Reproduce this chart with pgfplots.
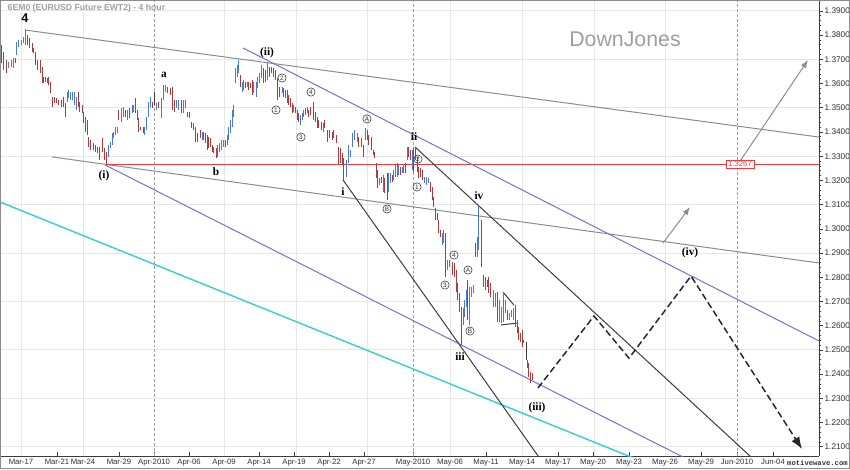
\documentclass[border=0pt]{standalone}
\usepackage{fontspec}
\setmainfont{Liberation Sans}
\newfontfamily\wavefont{Liberation Serif}
\newfontfamily\monofont{Liberation Mono}
\usepackage{pgfplots}
\usepackage{pgfplotstable}
\pgfplotsset{compat=1.18}
\usetikzlibrary{arrows.meta}

\definecolor{barblue}{HTML}{4A78D2}
\definecolor{barred}{HTML}{B03A3A}
\definecolor{trendgray}{HTML}{8C8C8C}
\definecolor{chanblue}{HTML}{7272D2}
\definecolor{cyanline}{HTML}{3CCFCF}
\definecolor{darkline}{HTML}{3C3C3C}
\definecolor{gridc}{HTML}{E6E6E6}
\definecolor{monthc}{HTML}{A0A0A0}
\definecolor{labc}{HTML}{303030}
\definecolor{redline}{HTML}{F03C3C}

% 4-hour bars: x = bar position, lo/hi = price range, u = 1 up, 0 down, 2 neutral
\pgfplotstableread{
x lo hi u
1 1.3685 1.3759 0
3 1.3656 1.3730 0
6 1.3644 1.3697 0
8 1.3664 1.3689 1
11 1.3668 1.3697 1
13 1.3664 1.3705 1
15 1.3685 1.3705 0
16 1.3718 1.3772 1
18 1.3751 1.3780 1
21 1.3759 1.3780 1
23 1.3767 1.3792 1
25 1.3759 1.3825 1
27 1.3759 1.3800 0
29 1.3747 1.3788 0
32 1.3730 1.3767 0
33 1.3726 1.3747 0
35 1.3677 1.3730 0
37 1.3656 1.3697 0
40 1.3644 1.3697 0
42 1.3602 1.3668 0
43 1.3602 1.3627 0
45 1.3606 1.3627 0
47 1.3602 1.3623 0
48 1.3594 1.3627 0
50 1.3561 1.3606 0
52 1.3503 1.3544 0
54 1.3520 1.3544 0
56 1.3520 1.3540 0
58 1.3511 1.3532 0
61 1.3503 1.3532 0
63 1.3503 1.3544 0
65 1.3462 1.3520 0
67 1.3524 1.3565 1
68 1.3540 1.3573 1
70 1.3532 1.3565 1
72 1.3532 1.3565 1
74 1.3511 1.3565 1
76 1.3491 1.3544 1
78 1.3503 1.3565 0
79 1.3482 1.3524 0
82 1.3478 1.3511 0
83 1.3437 1.3482 0
85 1.3400 1.3462 0
87 1.3387 1.3450 0
88 1.3338 1.3379 0
90 1.3326 1.3367 0
93 1.3326 1.3354 0
95 1.3317 1.3346 0
97 1.3313 1.3338 0
99 1.3284 1.3338 0
102 1.3317 1.3375 0
104 1.3284 1.3334 0
106 1.3268 1.3317 0
108 1.3297 1.3346 1
110 1.3334 1.3359 1
112 1.3346 1.3396 1
113 1.3375 1.3400 1
115 1.3387 1.3421 1
117 1.3396 1.3421 1
118 1.3450 1.3491 0
121 1.3441 1.3499 1
123 1.3462 1.3503 1
125 1.3462 1.3491 0
127 1.3450 1.3491 1
129 1.3458 1.3499 0
132 1.3478 1.3511 1
133 1.3482 1.3511 1
135 1.3478 1.3540 0
137 1.3450 1.3491 0
138 1.3400 1.3458 0
140 1.3408 1.3421 0
143 1.3396 1.3421 0
144 1.3387 1.3421 1
146 1.3408 1.3462 1
148 1.3462 1.3524 1
150 1.3503 1.3544 1
152 1.3499 1.3524 0
154 1.3511 1.3565 2
156 1.3491 1.3520 1
158 1.3499 1.3524 0
161 1.3458 1.3540 1
163 1.3532 1.3594 1
165 1.3565 1.3594 1
167 1.3561 1.3586 0
170 1.3553 1.3582 0
172 1.3491 1.3586 0
174 1.3482 1.3532 0
176 1.3499 1.3532 1
178 1.3491 1.3532 1
181 1.3478 1.3532 0
183 1.3478 1.3532 1
185 1.3499 1.3532 1
187 1.3462 1.3482 0
189 1.3458 1.3482 0
191 1.3416 1.3441 0
193 1.3408 1.3437 0
195 1.3359 1.3421 0
197 1.3359 1.3396 0
200 1.3375 1.3408 0
202 1.3367 1.3400 1
203 1.3367 1.3400 0
205 1.3354 1.3396 0
207 1.3326 1.3387 0
208 1.3334 1.3379 0
210 1.3338 1.3375 0
212 1.3317 1.3346 0
213 1.3313 1.3338 0
216 1.3292 1.3334 0
217 1.3297 1.3346 1
219 1.3317 1.3354 1
221 1.3326 1.3367 1
223 1.3338 1.3367 1
225 1.3338 1.3367 0
227 1.3346 1.3387 1
228 1.3367 1.3421 1
230 1.3396 1.3450 1
232 1.3421 1.3491 1
233 1.3462 1.3511 1
235 1.3602 1.3664 1
237 1.3627 1.3677 1
238 1.3644 1.3697 1
240 1.3586 1.3635 0
242 1.3565 1.3606 1
243 1.3573 1.3615 1
245 1.3582 1.3606 0
247 1.3586 1.3606 1
248 1.3573 1.3606 0
250 1.3582 1.3602 0
252 1.3553 1.3615 0
253 1.3561 1.3606 1
256 1.3544 1.3606 1
257 1.3582 1.3627 1
259 1.3602 1.3644 1
261 1.3623 1.3677 1
263 1.3602 1.3664 0
265 1.3606 1.3656 0
267 1.3615 1.3689 1
269 1.3627 1.3668 0
271 1.3644 1.3668 0
273 1.3627 1.3664 0
275 1.3615 1.3656 0
277 1.3532 1.3623 0
279 1.3544 1.3586 0
282 1.3561 1.3586 1
283 1.3544 1.3582 0
285 1.3540 1.3573 0
287 1.3520 1.3573 0
288 1.3511 1.3553 0
290 1.3503 1.3540 0
292 1.3478 1.3520 0
293 1.3482 1.3511 1
295 1.3478 1.3503 0
297 1.3450 1.3491 0
298 1.3441 1.3478 0
300 1.3429 1.3470 1
302 1.3450 1.3478 1
303 1.3462 1.3491 1
305 1.3470 1.3499 0
307 1.3478 1.3503 1
308 1.3462 1.3491 0
310 1.3470 1.3503 0
313 1.3450 1.3524 0
315 1.3441 1.3482 0
317 1.3416 1.3462 0
318 1.3416 1.3450 0
321 1.3408 1.3441 0
323 1.3400 1.3437 1
324 1.3416 1.3450 0
327 1.3359 1.3408 0
329 1.3375 1.3408 0
332 1.3367 1.3400 0
333 1.3375 1.3408 0
336 1.3354 1.3387 0
338 1.3264 1.3338 0
340 1.3272 1.3334 0
342 1.3264 1.3313 0
343 1.3202 1.3292 0
346 1.3214 1.3284 1
348 1.3272 1.3346 1
350 1.3297 1.3326 1
352 1.3338 1.3396 1
354 1.3367 1.3408 1
357 1.3359 1.3396 1
358 1.3338 1.3379 0
361 1.3338 1.3375 0
363 1.3297 1.3346 0
365 1.3367 1.3416 1
367 1.3367 1.3408 0
368 1.3346 1.3387 0
371 1.3326 1.3379 0
373 1.3305 1.3326 0
374 1.3292 1.3317 0
376 1.3210 1.3272 0
377 1.3169 1.3243 0
379 1.3181 1.3210 1
381 1.3189 1.3214 0
383 1.3152 1.3222 1
384 1.3148 1.3210 0
387 1.3119 1.3230 0
388 1.3152 1.3230 1
390 1.3189 1.3230 1
392 1.3193 1.3222 0
393 1.3202 1.3243 1
395 1.3214 1.3264 1
397 1.3214 1.3272 1
398 1.3222 1.3264 1
400 1.3222 1.3255 0
402 1.3230 1.3255 1
403 1.3230 1.3264 1
405 1.3230 1.3272 0
407 1.3284 1.3338 1
408 1.3297 1.3338 0
410 1.3284 1.3326 0
412 1.3243 1.3326 1
413 1.3235 1.3334 0
415 1.3284 1.3338 0
417 1.3235 1.3297 0
418 1.3210 1.3255 0
420 1.3214 1.3251 0
422 1.3202 1.3243 0
424 1.3189 1.3214 1
426 1.3181 1.3214 1
428 1.3189 1.3210 1
430 1.3152 1.3193 0
432 1.3119 1.3173 0
433 1.3090 1.3131 0
435 1.3037 1.3086 0
437 1.3037 1.3065 0
438 1.2983 1.3037 0
440 1.2966 1.2995 0
442 1.2933 1.2983 1
443 1.2941 1.2995 1
445 1.2801 1.2983 0
447 1.2830 1.2871 1
449 1.2842 1.2871 1
452 1.2809 1.2863 0
454 1.2801 1.2859 0
456 1.2739 1.2830 0
457 1.2706 1.2776 0
459 1.2656 1.2735 0
461 1.2520 1.2677 0
463 1.2603 1.2673 1
464 1.2636 1.2706 1
466 1.2677 1.2747 1
467 1.2623 1.2789 0
469 1.2603 1.2760 1
471 1.2718 1.2760 1
473 1.2735 1.2768 1
475 1.2884 1.2941 0
477 1.2884 1.2966 1
478 1.2913 1.3098 1
481 1.2842 1.3037 0
483 1.2760 1.2809 0
485 1.2747 1.2801 0
487 1.2760 1.2789 0
488 1.2735 1.2801 0
490 1.2718 1.2776 0
493 1.2677 1.2747 1
495 1.2677 1.2735 1
497 1.2615 1.2739 0
499 1.2615 1.2706 1
501 1.2611 1.2677 1
503 1.2615 1.2739 1
505 1.2652 1.2706 1
507 1.2623 1.2665 0
509 1.2623 1.2652 1
511 1.2636 1.2665 1
513 1.2623 1.2673 1
515 1.2595 1.2685 0
517 1.2570 1.2623 0
518 1.2541 1.2595 0
520 1.2533 1.2570 0
522 1.2512 1.2582 0
523 1.2529 1.2541 0
526 1.2459 1.2533 2
527 1.2425 1.2459 0
528 1.2388 1.2446 0
530 1.2363 1.2409 0
532 1.2376 1.2404 0
}\bars

\pgfplotsset{
  ohlc/.style={draw=none, mark=none, forget plot,
    error bars/y dir=plus, error bars/y explicit, error bars/error mark=none,
    error bars/error bar style={draw=#1, line width=0.7pt}},
}
\tikzset{
  wave/.style={font=\wavefont\bfseries\fontsize{8.5}{9}\selectfont, text=black, inner sep=0pt},
  circ/.style={circle, draw=labc, line width=0.4pt, inner sep=0pt, minimum size=6.2pt,
    font=\fontsize{4.8}{5}\selectfont, text=labc},
}

\begin{document}
\begin{tikzpicture}
\path[use as bounding box] (0,0) rectangle (637.5pt,351.75pt);
\begin{axis}[
  at={(0pt,9.75pt)}, anchor=south west,
  width=614.25pt, height=342pt, scale only axis,
  xmin=0, xmax=819, ymin=1.2062, ymax=1.3945,
  axis x line*=bottom, axis y line*=right,
  axis line style={draw=darkline, line width=0.6pt},
  tick align=outside,
  major tick length=3pt, minor tick length=1.6pt,
  tick style={darkline, line width=0.5pt},
  xtick style={yshift=3pt},
  xtick={21,57,83,119,154,189,224,259,294,329,364,413,450,486,522,558,593,629,665,701,737,773},
  xticklabels={Mar-17,Mar-21,Mar-24,Mar-29,Apr-2010,Apr-06,Apr-09,Apr-14,Apr-19,Apr-22,Apr-27,May-2010,May-06,May-11,May-14,May-17,May-20,May-23,May-26,May-29,Jun-2010,Jun-04},
  xticklabel style={font=\fontsize{5.8}{7}\selectfont, text=labc, inner sep=0.5pt, yshift=1.5pt},
  ytick={1.21,1.22,1.23,1.24,1.25,1.26,1.27,1.28,1.29,1.30,1.31,1.32,1.33,1.34,1.35,1.36,1.37,1.38,1.39},
  minor y tick num=4,
  yticklabel style={font=\fontsize{6.2}{7}\selectfont, text=labc, inner sep=1pt,
    /pgf/number format/fixed, /pgf/number format/fixed zerofill, /pgf/number format/precision=4},
  /pgf/number format/assume math mode=true,
  clip=true,
]
% grid
\pgfplotsinvokeforeach{1.21,1.23,1.25,1.27,1.29,1.31,1.33,1.35,1.37,1.39}{
  \draw[gridc, line width=0.75pt] (axis cs:0,#1) -- (axis cs:819,#1);}
\pgfplotsinvokeforeach{21,83,224,296,367,450,522,594,665}{
  \draw[gridc, line width=0.75pt] (axis cs:#1,1.2062) -- (axis cs:#1,1.3945);}
\pgfplotsinvokeforeach{154,413,737}{
  \draw[monthc, line width=0.6pt, dash pattern=on 2.2pt off 1.5pt] (axis cs:#1,1.2062) -- (axis cs:#1,1.3945);}

% trend lines
\addplot[trendgray, line width=0.75pt, forget plot] coordinates {(25,1.3821) (819,1.3379)};
\addplot[trendgray, line width=0.75pt, forget plot] coordinates {(52,1.3297) (819,1.2859)};
\addplot[redline, line width=0.75pt, forget plot] coordinates {(105,1.3267) (819,1.3267)};
\addplot[chanblue, line width=0.75pt, forget plot] coordinates {(243,1.3747) (819,1.2537)};
\addplot[chanblue, line width=0.75pt, forget plot] coordinates {(105,1.3264) (819,1.1774)};
\addplot[cyanline, line width=1.1pt, forget plot] coordinates {(0,1.3111) (819,1.1744)};
\addplot[darkline, line width=0.75pt, forget plot] coordinates {(343,1.3202) (560,1.1934)};
\addplot[darkline, line width=0.75pt, forget plot] coordinates {(415,1.3338) (819,1.1799)};
\addplot[darkline, line width=0.75pt, forget plot] coordinates {(503,1.2739) (514,1.2685)};
\addplot[darkline, line width=0.75pt, forget plot] coordinates {(501,1.2603) (517,1.2611)};
\addplot[trendgray, line width=0.75pt, forget plot, -{Latex[length=6pt,width=4.5pt]}] coordinates {(738,1.3267) (808,1.3697)};
\addplot[trendgray, line width=0.75pt, forget plot, -{Latex[length=6pt,width=4.5pt]}] coordinates {(663,1.2941) (690,1.3090)};
\addplot[black!85, line width=1.1pt, forget plot, dash pattern=on 5pt off 2.5pt, -{Latex[length=9pt,width=7pt]}]
  coordinates {(538,1.2343) (594,1.2640) (629,1.2466) (691,1.2805) (802,1.2091)};

% bars
\addplot[ohlc=barred, restrict expr to domain={\thisrow{u}}{-0.5:0.5}]
  table[x=x, y=lo, y error plus expr=\thisrow{hi}-\thisrow{lo}] {\bars};
\addplot[ohlc=barblue, restrict expr to domain={\thisrow{u}}{0.5:1.5}]
  table[x=x, y=lo, y error plus expr=\thisrow{hi}-\thisrow{lo}] {\bars};
\addplot[ohlc=darkline, restrict expr to domain={\thisrow{u}}{1.5:2.5}]
  table[x=x, y=lo, y error plus expr=\thisrow{hi}-\thisrow{lo}] {\bars};

% labels
\node[anchor=west, font=\bfseries\fontsize{6.5}{7}\selectfont, text=monthc] at (axis cs:3,1.3912) {6EM0 (EURUSD Future EWT2) - 4 hour};
\node[font=\fontsize{16}{18}\selectfont, text=black!38] at (axis cs:625,1.3784) {DownJones};
\node[font=\bfseries\fontsize{9.5}{10}\selectfont, text=black] at (axis cs:25,1.3871) {4};
\node[wave] at (axis cs:164,1.3635) {a};
\node[wave] at (axis cs:216,1.3235) {b};
\node[wave] at (axis cs:104,1.3218) {(i)};
\node[wave] at (axis cs:267,1.3726) {(ii)};
\node[wave] at (axis cs:343,1.3152) {i};
\node[wave] at (axis cs:414,1.3379) {ii};
\node[wave] at (axis cs:460,1.2471) {iii};
\node[wave] at (axis cs:479,1.3136) {iv};
\node[wave] at (axis cs:537,1.2260) {(iii)};
\node[wave] at (axis cs:690,1.2900) {(iv)};
\node[circ] at (axis cs:276,1.3491) {1};
\node[circ] at (axis cs:282,1.3623) {2};
\node[circ] at (axis cs:301,1.3379) {3};
\node[circ] at (axis cs:311,1.3565) {4};
\node[circ] at (axis cs:367,1.3454) {A};
\node[circ] at (axis cs:387,1.3082) {B};
\node[circ] at (axis cs:418,1.3288) {2};
\node[circ] at (axis cs:417,1.3173) {1};
\node[circ] at (axis cs:445,1.2768) {3};
\node[circ] at (axis cs:454,1.2892) {4};
\node[circ] at (axis cs:468,1.2830) {A};
\node[circ] at (axis cs:470,1.2578) {B};
\node[draw=redline, fill=white, text=redline, line width=0.5pt, inner xsep=1.5pt, inner ysep=1.2pt,
  font=\fontsize{5.8}{6}\selectfont] at (axis cs:740,1.3267) {1.3267};
\end{axis}
\node[font=\monofont\bfseries\fontsize{5.4}{6}\selectfont, text=labc] at (613.1pt,4.6pt) {motivewave.com};
\draw[trendgray, line width=0.75pt] (0.375pt,0.375pt) rectangle (637.125pt,351.375pt);
\end{tikzpicture}
\end{document}
